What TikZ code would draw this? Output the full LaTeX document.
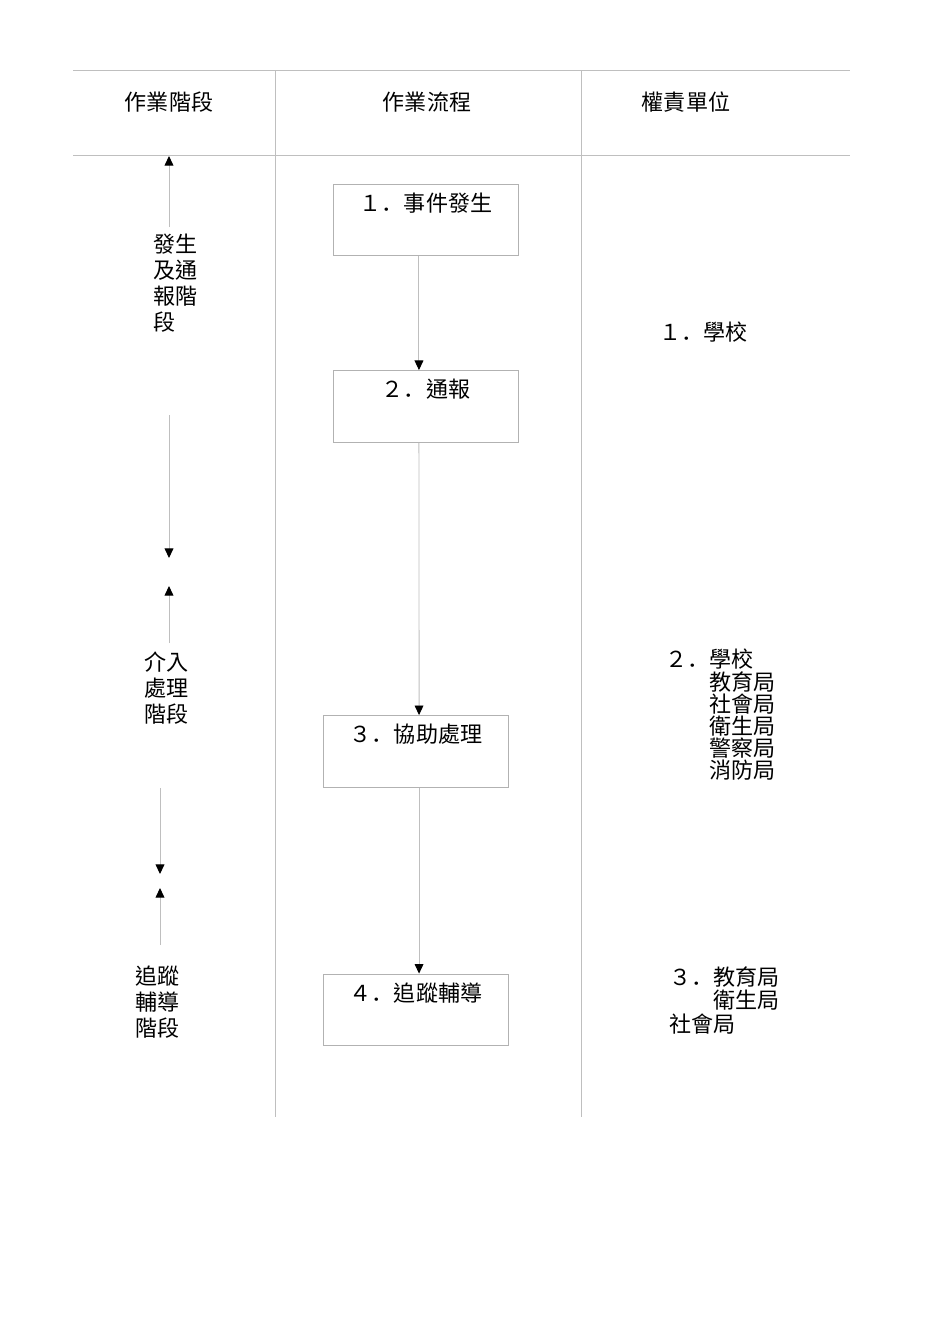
\documentclass[tikz,border=0pt]{standalone}
\usepackage{fontspec}
\newfontfamily\cjk{Noto Sans CJK TC}
\newfontfamily\cjkdot{Noto Sans CJK SC}
\newcommand{\numdot}{{\cjkdot ．}}
\usetikzlibrary{arrows.meta,positioning}

\begin{document}
\begin{tikzpicture}[x=0.626pt,y=-0.626pt,
		rule/.style={draw=black!25, line width=0.6pt},
		flow/.style={rule, -{Triangle[length=6pt,width=5.5pt,color=black]}},
		box/.style={draw=black!30, line width=0.6pt, minimum width=116.4pt, inner sep=0pt, text height=17.1pt, text depth=27.9pt, font=\cjk\fontsize{13.8}{16}\selectfont},
		txt/.style={inner sep=0pt, align=left, font=\cjk\fontsize{13.8}{16.3}\selectfont},
		list/.style={txt, font=\cjk\fontsize{13.8}{13.8}\selectfont}]
				\useasboundingbox (0,0) rectangle (950,1344);
				
				% table frame
				\draw[rule] (73,70) -- (850,70);
				\draw[rule] (73,155) -- (850,155);
				\draw[rule] (275,70) -- (275,1117);
				\draw[rule] (581,70) -- (581,1117);
				
				\node[txt] (h1) at (169,102) {作業階段};
				\node[txt] (h2) at (427,102) {作業流程};
				\node[txt] (h3) at (686,102) {權責單位};
				
				% stages
				\node[txt, anchor=north west] (s1) at (153,234) {發生\\及通\\報階\\段};
				\node[txt, anchor=north west] (s2) at (144,651) {介入\\處理\\階段};
				\node[txt, anchor=north west] (s3) at (135,966) {追蹤\\輔導\\階段};
				
				\coordinate (u1a) at (169,227);
				\coordinate (u1b) at (169,156);
				\coordinate (d1a) at (169,415);
				\coordinate (d1b) at (169,558);
				\coordinate (u2a) at (169,643);
				\coordinate (u2b) at (169,586);
				\coordinate (d2a) at (160,788);
				\coordinate (d2b) at (160,874);
				\coordinate (u3a) at (160,945);
				\coordinate (u3b) at (160,888);
				
				\draw[flow] (u1a) -- (u1b);
				\draw[flow] (d1a) -- (d1b);
				\draw[flow] (u2a) -- (u2b);
				\draw[flow] (d2a) -- (d2b);
				\draw[flow] (u3a) -- (u3b);
				
				% flow
				\node[box] (b1) at (426,220) {１\numdot 事件發生};
				\node[box] (b2) at (426,406.5) {２\numdot 通報};
				\node[box] (b3) at (416,751.5) {３\numdot 協助處理};
				\node[box] (b4) at (416,1010) {４\numdot 追蹤輔導};
				
				\draw[flow] ([xshift=-4.4pt]b1.south) -- ([xshift=-4.4pt]b2.north);
				\draw[flow] ([xshift=-4.4pt]b2.south) -- ([xshift=1.9pt]b3.north);
				\draw[flow] ([xshift=1.9pt]b3.south) -- ([xshift=1.9pt]b4.north);
				
				% units
				\node[txt, anchor=west] (r1) at (659,332) {１\numdot 學校};
				\node[list, anchor=north west] (r2) at (665,649) {２\numdot 學校\\　　教育局\\　　社會局\\　　衛生局\\　　警察局\\　　消防局};
				\node[txt, anchor=north west, font=\cjk\fontsize{13.8}{14.7}\selectfont] (r3) at (669,966) {３\numdot 教育局\\　　衛生局\\社會局};
\end{tikzpicture}
\end{document}
